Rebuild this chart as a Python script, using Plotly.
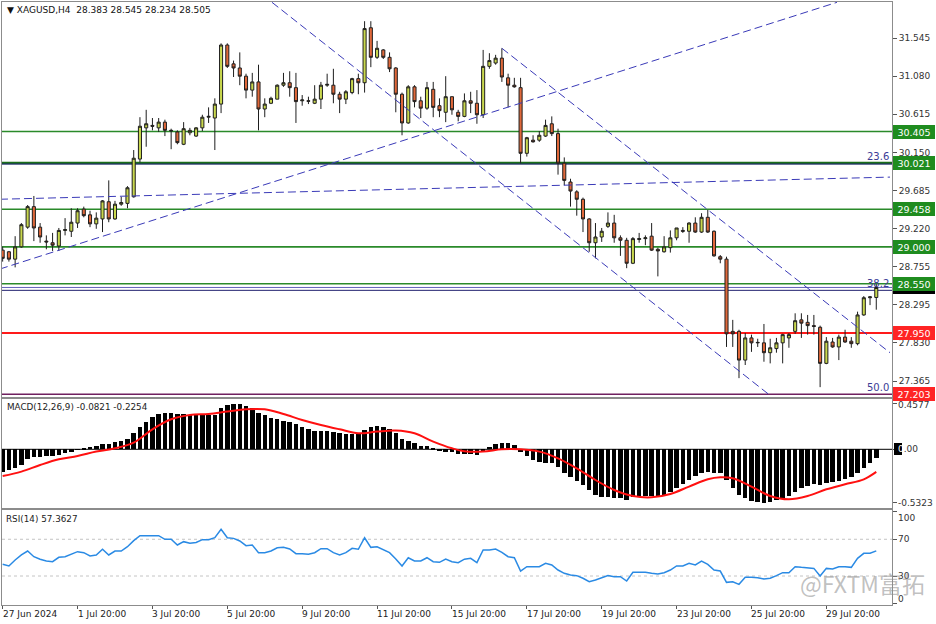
import plotly.graph_objects as go

W, H = 936, 624

# ---------------- data ----------------
open_ = [28.96, 28.94, 28.85, 29.00, 29.24, 29.49, 29.24, 29.07, 29.05, 29.01,
         29.20, 29.19, 29.29, 29.46, 29.39, 29.28, 29.34, 29.55, 29.34, 29.52,
         29.53, 29.61, 30.07, 30.45, 30.48, 30.45, 30.52, 30.42, 30.40, 30.25,
         30.39, 30.35, 30.45, 30.58, 30.57, 30.74, 31.46, 31.23, 31.18, 31.08,
         30.91, 31.01, 30.68, 30.75, 30.80, 30.97, 31.00, 30.94, 30.78, 30.78,
         30.75, 30.80, 30.97, 30.97, 30.86, 30.80, 30.88, 31.05, 31.00, 31.67,
         31.31, 31.40, 31.31, 31.18, 30.86, 30.51, 30.95, 30.78, 30.69, 30.92,
         30.72, 30.64, 30.83, 30.64, 30.59, 30.78, 30.75, 30.61, 31.20, 31.24,
         31.30, 31.06, 30.97, 30.94, 30.14, 30.30, 30.30, 30.35, 30.50, 30.38,
         30.02, 29.79, 29.67, 29.58, 29.34, 29.05, 29.12, 29.25, 29.29, 29.11,
         29.08, 28.80, 29.09, 29.10, 29.13, 28.97, 28.94, 28.99, 29.11, 29.20,
         29.19, 29.29, 29.18, 29.36, 29.19, 28.88, 28.85, 27.97, 27.97, 27.62,
         27.89, 27.83, 27.83, 27.71, 27.76, 27.83, 27.89, 27.97, 28.11, 28.08,
         28.04, 28.02, 27.58, 27.84, 27.78, 27.90, 27.85, 27.82, 28.17, 28.38,
         28.383]
high = [29.00, 28.95, 29.13, 29.29, 29.51, 29.62, 29.29, 29.14, 29.17, 29.23,
        29.35, 29.47, 29.47, 29.49, 29.44, 29.42, 29.57, 29.81, 29.56, 29.61,
        29.74, 30.18, 30.58, 30.67, 30.57, 30.57, 30.55, 30.44, 30.42, 30.52,
        30.45, 30.46, 30.61, 30.70, 30.81, 31.48, 31.48, 31.27, 31.37, 31.11,
        31.12, 31.22, 30.81, 30.83, 30.98, 31.12, 31.14, 31.12, 30.85, 30.83,
        30.97, 31.01, 31.11, 31.17, 30.89, 30.91, 31.06, 31.11, 31.75, 31.75,
        31.51, 31.41, 31.37, 31.19, 30.88, 30.97, 30.97, 30.83, 31.01, 31.01,
        30.81, 31.08, 30.83, 30.67, 30.87, 30.89, 30.91, 31.40, 31.36, 31.34,
        31.42, 31.11, 31.06, 31.06, 30.34, 30.36, 30.41, 30.55, 30.59, 30.44,
        30.09, 29.83, 29.69, 29.60, 29.35, 29.29, 29.23, 29.42, 29.39, 29.14,
        29.11, 29.12, 29.17, 29.14, 29.29, 28.99, 29.13, 29.20, 29.23, 29.24,
        29.30, 29.36, 29.41, 29.45, 29.20, 28.90, 28.88, 28.11, 27.99, 27.95,
        27.93, 27.88, 28.06, 27.88, 27.89, 27.94, 27.95, 28.19, 28.19, 28.17,
        28.17, 28.04, 27.90, 27.89, 27.93, 27.99, 27.90, 28.21, 28.40, 28.40,
        28.545]
low = [28.82, 28.82, 28.75, 28.99, 29.22, 29.07, 29.05, 28.97, 28.95, 28.95,
       29.14, 29.12, 29.23, 29.36, 29.24, 29.22, 29.18, 29.30, 29.33, 29.50,
       29.47, 29.60, 30.03, 30.22, 30.42, 30.40, 30.35, 30.19, 30.25, 30.24,
       30.36, 30.34, 30.41, 30.51, 30.18, 30.63, 31.18, 31.07, 30.97, 30.81,
       30.83, 30.42, 30.58, 30.74, 30.80, 30.95, 30.83, 30.51, 30.72, 30.74,
       30.74, 30.68, 30.95, 30.75, 30.63, 30.74, 30.86, 30.86, 30.88, 31.19,
       31.29, 31.29, 31.13, 30.64, 30.36, 30.50, 30.70, 30.57, 30.67, 30.58,
       30.58, 30.52, 30.61, 30.53, 30.58, 30.63, 30.50, 30.57, 31.17, 31.22,
       31.01, 30.70, 30.94, 30.02, 30.10, 30.27, 30.28, 30.34, 30.35, 29.88,
       29.75, 29.49, 29.38, 29.18, 28.94, 28.86, 29.06, 29.23, 29.05, 28.89,
       28.74, 28.79, 29.05, 29.02, 28.95, 28.64, 28.93, 28.93, 29.08, 29.17,
       29.05, 29.17, 29.17, 29.17, 28.88, 28.80, 27.78, 27.78, 27.40, 27.56,
       27.72, 27.78, 27.60, 27.58, 27.71, 27.58, 27.77, 27.94, 27.89, 27.93,
       27.93, 27.29, 27.57, 27.77, 27.62, 27.83, 27.77, 27.80, 28.16, 28.29,
       28.234]
close = [28.86, 28.85, 29.00, 29.27, 29.49, 29.23, 29.12, 29.06, 29.02, 29.20,
         29.21, 29.30, 29.44, 29.38, 29.28, 29.35, 29.56, 29.34, 29.52, 29.54,
         29.72, 30.08, 30.47, 30.50, 30.47, 30.52, 30.42, 30.415, 30.27, 30.44,
         30.42, 30.45, 30.58, 30.59, 30.74, 31.46, 31.20, 31.18, 31.08, 30.91,
         31.01, 30.68, 30.74, 30.81, 30.97, 31.00, 30.94, 30.77, 30.79, 30.775,
         30.80, 30.97, 30.98, 30.86, 30.80, 30.89, 31.05, 31.00, 31.66, 31.31,
         31.42, 31.31, 31.17, 30.86, 30.51, 30.95, 30.77, 30.69, 30.94, 30.70,
         30.66, 30.83, 30.67, 30.59, 30.78, 30.75, 30.61, 31.20, 31.27, 31.30,
         31.07, 30.97, 30.95, 30.14, 30.33, 30.28, 30.36, 30.48, 30.38, 30.02,
         29.81, 29.68, 29.58, 29.34, 29.05, 29.12, 29.19, 29.29, 29.11, 29.08,
         28.80, 29.10, 29.10, 29.11, 28.96, 28.95, 29.00, 29.11, 29.23, 29.19,
         29.29, 29.18, 29.36, 29.18, 28.89, 28.85, 27.94, 27.94, 27.62, 27.89,
         27.83, 27.835, 27.71, 27.77, 27.83, 27.93, 27.93, 28.10, 28.07, 28.04,
         28.03, 27.58, 27.85, 27.78, 27.90, 27.84, 27.82, 28.17, 28.38, 28.39,
         28.505]
bars = list(range(len(close)))

macd_main = [-0.224, -0.207, -0.190, -0.157, -0.100, -0.073, -0.073, -0.067, -0.067, -0.057,
             -0.040, -0.023, -0.007, 0.010, 0.020, 0.033, 0.053, 0.053, 0.070, 0.083,
             0.103, 0.160, 0.227, 0.277, 0.320, 0.353, 0.367, 0.367, 0.353, 0.353,
             0.343, 0.343, 0.343, 0.343, 0.343, 0.410, 0.443, 0.4577, 0.453, 0.433,
             0.410, 0.367, 0.343, 0.310, 0.300, 0.287, 0.277, 0.250, 0.227, 0.200,
             0.183, 0.183, 0.183, 0.177, 0.160, 0.150, 0.150, 0.150, 0.193, 0.227,
             0.233, 0.227, 0.203, 0.167, 0.100, 0.087, 0.067, 0.033, 0.033, 0.010,
             -0.017, -0.023, -0.023, -0.047, -0.050, -0.050, -0.057, -0.017, 0.020, 0.050,
             0.060, 0.060, 0.043, -0.023, -0.067, -0.107, -0.123, -0.133, -0.140, -0.180,
             -0.233, -0.280, -0.313, -0.357, -0.407, -0.457, -0.473, -0.480, -0.490, -0.490,
             -0.507, -0.480, -0.473, -0.467, -0.467, -0.467, -0.457, -0.423, -0.390, -0.347,
             -0.307, -0.267, -0.240, -0.223, -0.233, -0.240, -0.307, -0.390, -0.457, -0.490,
             -0.513, -0.523, -0.5323, -0.523, -0.507, -0.490, -0.467, -0.423, -0.390, -0.367,
             -0.347, -0.357, -0.340, -0.323, -0.313, -0.300, -0.280, -0.240, -0.190, -0.140,
             -0.0821]
signal_x = [0, 3, 6, 9, 12, 15, 18, 21, 24, 27, 30, 33, 36, 39, 42, 45, 48, 51, 54, 57,
            60, 63, 66, 69, 72, 74, 77, 80, 83, 86, 89, 92, 95, 98, 101, 104, 107, 110,
            113, 115, 117, 120, 123, 126, 129, 132, 135, 138, 140]
signal_y = [-0.267, -0.223, -0.157, -0.100, -0.067, -0.023, 0.010, 0.067, 0.200, 0.300,
            0.343, 0.353, 0.377, 0.400, 0.400, 0.353, 0.293, 0.243, 0.200, 0.160,
            0.177, 0.187, 0.160, 0.077, 0.010, -0.020, -0.023, 0.000, 0.000, -0.023,
            -0.090, -0.190, -0.307, -0.407, -0.467, -0.480, -0.447, -0.373, -0.300, -0.280,
            -0.290, -0.373, -0.467, -0.500, -0.467, -0.400, -0.350, -0.300, -0.2254]

rsi = [42.7, 40.9, 47.4, 52.9, 57.2, 51.0, 48.2, 46.3, 45.6, 50.4,
       51.0, 53.6, 56.5, 55.4, 51.8, 52.9, 59.1, 52.9, 57.2, 57.2,
       61.9, 68.5, 73.9, 73.9, 73.9, 73.9, 70.0, 70.0, 63.8, 67.4,
       65.6, 66.5, 69.6, 69.6, 71.7, 80.9, 71.7, 71.0, 68.1, 63.0,
       63.8, 55.4, 55.4, 57.2, 60.8, 61.2, 59.4, 54.3, 54.3, 53.6,
       55.4, 59.7, 59.7, 55.4, 52.9, 55.4, 60.1, 59.1, 71.7, 61.2,
       61.9, 59.1, 55.4, 48.5, 40.9, 49.9, 46.3, 46.3, 49.9, 45.6,
       44.9, 48.5, 45.6, 44.5, 48.3, 49.2, 44.5, 58.3, 58.3, 59.4,
       55.8, 51.0, 49.9, 35.4, 40.1, 40.1, 40.1, 43.8, 42.0, 36.5,
       32.9, 31.1, 30.4, 27.5, 23.8, 25.6, 28.1, 30.4, 29.3, 29.3,
       24.5, 34.0, 34.0, 34.0, 32.9, 32.2, 33.6, 36.5, 40.9, 40.9,
       43.8, 42.0, 46.3, 42.7, 36.5, 35.4, 23.1, 23.8, 20.9, 28.6,
       28.6, 28.1, 26.7, 27.5, 30.4, 33.6, 33.6, 40.1, 39.4, 39.0,
       38.3, 30.0, 38.3, 37.6, 40.1, 40.1, 39.4, 49.2, 54.7, 54.7,
       57.3627]

price_ticks = [31.545, 31.080, 30.615, 30.150, 29.685, 29.220, 28.755, 28.295, 27.830, 27.365]
date_ticks = [0, 12, 24, 36, 48, 60, 72, 84, 96, 108, 120, 132]
date_labels = ["27 Jun 2024", "1 Jul 20:00", "3 Jul 20:00", "5 Jul 20:00", "9 Jul 20:00",
               "11 Jul 20:00", "15 Jul 20:00", "17 Jul 20:00", "19 Jul 20:00",
               "23 Jul 20:00", "25 Jul 20:00", "29 Jul 20:00"]

green_levels = [30.405, 30.021, 29.458, 29.000, 28.550]
red_levels = [27.950, 27.203]
fib_names = ["23.6", "38.2", "50.0"]
fib_levels = [30.021, 28.470, 27.203]
bid_price = 28.505

trend_up_x, trend_up_y = [-0.43, 133.7], [28.73, 31.98]
trend_flat_x, trend_flat_y = [-0.43, 142.2], [29.58, 29.85]
chan_low_x, chan_low_y = [43.16, 122.97], [31.98, 27.19]
chan_up_x, chan_up_y = [80.0, 142.2], [31.42, 27.71]

# ---------------- layout helpers ----------------
def fx(px):
    return px / W

def fy(py):
    return 1 - py / H

FONT = "DejaVu Sans"
XR = [-0.107, 142.52]
XDOM = [fx(2), fx(892)]
AX = "#8c8c8c"

fig = go.Figure()

# trend lines
for tx, ty in [(trend_up_x, trend_up_y), (trend_flat_x, trend_flat_y),
               (chan_low_x, chan_low_y), (chan_up_x, chan_up_y)]:
    fig.add_trace(go.Scatter(x=tx, y=ty, mode="lines", xaxis="x", yaxis="y",
                             line=dict(color="#3a3ab8", width=1, dash="8px,4px"),
                             hoverinfo="skip"))

fig.add_trace(go.Candlestick(
    x=bars, open=open_, high=high, low=low, close=close, xaxis="x", yaxis="y",
    increasing=dict(fillcolor="#c9d84e", line=dict(color="#1e1e1e", width=1)),
    decreasing=dict(fillcolor="#e0683a", line=dict(color="#1e1e1e", width=1)),
    whiskerwidth=0, hoverinfo="skip"))

fig.add_trace(go.Bar(x=bars, y=macd_main, xaxis="x2", yaxis="y2", width=0.72,
                     marker=dict(color="#000000", line=dict(width=0)), hoverinfo="skip"))
fig.add_trace(go.Scatter(x=signal_x, y=signal_y, xaxis="x2", yaxis="y2", mode="lines",
                         line=dict(color="#ff1010", width=2, shape="spline", smoothing=1.0),
                         hoverinfo="skip"))

fig.add_trace(go.Scatter(x=bars, y=rsi, xaxis="x3", yaxis="y3", mode="lines",
                         line=dict(color="#2a8ae4", width=1.5), hoverinfo="skip"))

shapes = []

def hline(y, color, width, yref="y", dash="solid"):
    xr = {"y": "x", "y2": "x2", "y3": "x3"}[yref]
    shapes.append(dict(type="line", xref=xr + " domain", x0=0, x1=1, yref=yref, y0=y, y1=y,
                       line=dict(color=color, width=width, dash=dash), layer="below"))

# horizontal levels
for lv in green_levels:
    if lv == 30.021:
        hline(lv, "#1b6e1b", 2.5)
    else:
        hline(lv, "#2a8a2a", 1.6)
hline(fib_levels[0] - 0.012, "#20207a", 1)
hline(bid_price, "#6060b8", 1)
hline(fib_levels[1], "#20206e", 1)
hline(red_levels[0], "#ff1a1a", 2)
hline(red_levels[1], "#702060", 1.5)

hline(0, "#000000", 1, "y2")
hline(70, "#c4c4c4", 1, "y3", "dot")
hline(30, "#c4c4c4", 1, "y3", "dot")

annotations = []

def rlabel(text, y, bg, fg="white", yref="y"):
    annotations.append(dict(text=text, xref="paper", x=fx(893), xanchor="left",
                            yref=yref, y=y, yanchor="middle", showarrow=False,
                            font=dict(family=FONT, size=9.5, color=fg), bgcolor=bg,
                            bordercolor=bg, borderwidth=1, borderpad=1, width=38, height=10))

rlabel("28.505", bid_price, "#000000")
for lv in green_levels:
    rlabel(f"{lv:.3f}", lv, "#1f8c1f")
for lv in red_levels:
    rlabel(f"{lv:.3f}", lv, "#ff2424")

# fib texts
for name, lv in zip(fib_names, fib_levels):
    annotations.append(dict(text=name, xref="paper", x=fx(891), xanchor="right",
                            yref="y", y=lv, yanchor="bottom", yshift=-1, showarrow=False,
                            font=dict(family=FONT, size=10, color="#3c3c96")))

# titles
annotations.append(dict(text="\u25bc XAGUSD,H4  28.383 28.545 28.234 28.505", xref="paper",
                        x=fx(5), xanchor="left", yref="paper", y=fy(10), yanchor="middle",
                        showarrow=False, font=dict(family=FONT, size=9, color="#111111")))
annotations.append(dict(text="MACD(12,26,9) -0.0821 -0.2254", xref="paper", x=fx(5),
                        xanchor="left", yref="paper", y=fy(407), yanchor="middle",
                        showarrow=False, font=dict(family=FONT, size=8.8, color="#222222")))
annotations.append(dict(text="RSI(14) 57.3627", xref="paper", x=fx(4), xanchor="left",
                        yref="paper", y=fy(519), yanchor="middle", showarrow=False,
                        font=dict(family=FONT, size=8.8, color="#222222")))

# sub-window scale labels
def slabel(text, py, color="#333333"):
    annotations.append(dict(text=text, xref="paper", x=fx(896), xanchor="left",
                            yref="paper", y=fy(py), yanchor="middle", showarrow=False,
                            font=dict(family=FONT, size=9, color=color)))

shapes.append(dict(type="rect", xref="paper", yref="paper", x0=fx(894), x1=fx(902),
                   y0=fy(455), y1=fy(443), fillcolor="#000000", line=dict(width=0)))
slabel("0.4577", 405)
slabel('<span style="color:#ffffff">0</span>.00', 449)
slabel("-0.5323", 503)
slabel("100", 518)
slabel("70", 539)
slabel("30", 576)
slabel("0", 599)

# date labels
for t, lab in zip(date_ticks, date_labels):
    annotations.append(dict(text=lab, xref="x3", x=t, xanchor="left", xshift=-2,
                            yref="paper", y=fy(614), yanchor="middle", showarrow=False,
                            font=dict(family=FONT, size=9, color="#222222")))

# watermark
annotations.append(dict(text="@FXTM富拓", xref="paper", x=fx(798), xanchor="left",
                        yref="paper", y=fy(583), yanchor="middle", showarrow=False,
                        font=dict(family="Noto Sans CJK SC", size=23,
                                  color="rgba(140,140,140,0.55)")))

axis_common = dict(showgrid=False, zeroline=False, showline=True, mirror=True,
                   linecolor=AX, linewidth=1)

fig.update_layout(
    width=W, height=H, margin=dict(l=0, r=0, t=0, b=0),
    paper_bgcolor="white", plot_bgcolor="white", showlegend=False,
    bargap=0, hovermode=False,
    xaxis=dict(domain=XDOM, range=XR, anchor="y", showticklabels=False, ticks="",
               rangeslider=dict(visible=False), **axis_common),
    yaxis=dict(domain=[fy(397), fy(2)], range=[27.170, 31.984], anchor="x", side="right",
               tickvals=price_ticks, ticktext=[f"{v:.3f}" for v in price_ticks],
               ticks="outside", ticklen=4, tickcolor="#555555",
               tickfont=dict(family=FONT, size=9, color="#333333"), **axis_common),
    xaxis2=dict(domain=XDOM, range=XR, anchor="y2", showticklabels=False, ticks="",
                **axis_common),
    yaxis2=dict(domain=[fy(508), fy(399)], range=[-0.587, 0.503], anchor="x2", side="right",
                tickvals=[0.4577, 0, -0.5323], ticktext=["", "", ""], ticks="outside",
                ticklen=4, tickcolor="#555555", **axis_common),
    xaxis3=dict(domain=XDOM, range=XR, anchor="y3", tickvals=date_ticks,
                ticktext=[""] * len(date_ticks), ticks="outside", ticklen=3,
                tickcolor="#555555", **axis_common),
    yaxis3=dict(domain=[fy(605), fy(510)], range=[-1.6, 101.9], anchor="x3", side="right",
                tickvals=[100, 70, 30, 0], ticktext=["", "", "", ""], ticks="outside",
                ticklen=4, tickcolor="#555555", **axis_common),
    shapes=shapes, annotations=annotations,
)

fig.write_html("out.html", config={"displayModeBar": False},
               post_script="document.body.style.margin='0';document.body.style.padding='0';"
                           "document.body.style.overflow='hidden';")
